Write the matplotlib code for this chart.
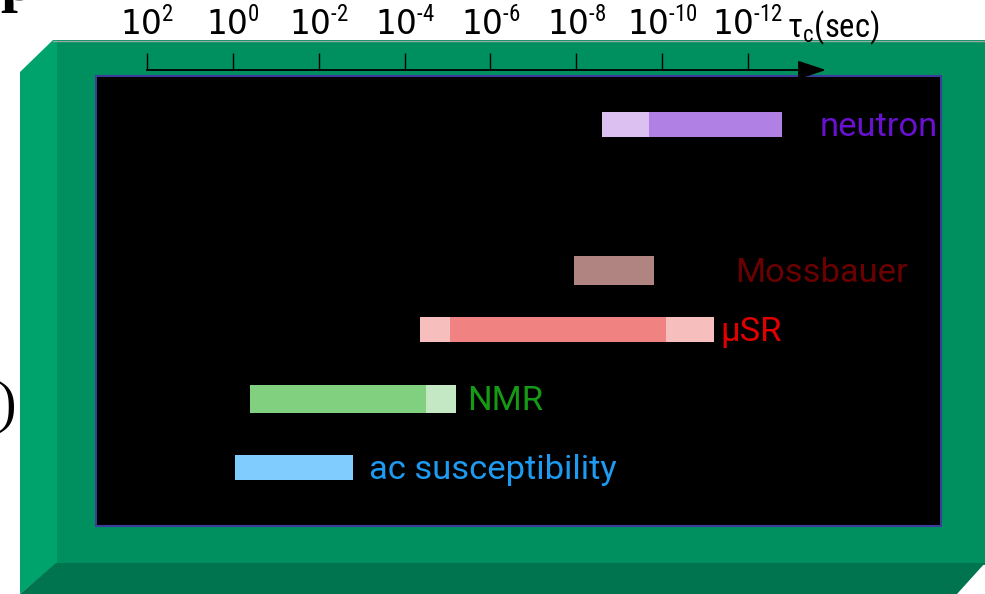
import matplotlib
matplotlib.use("Agg")
import matplotlib.pyplot as plt
from matplotlib.patches import Polygon, Rectangle
from matplotlib.ticker import NullLocator

# time windows of each probe, as log10(tau_c / sec)
probes = ["ac susceptibility", "NMR", "μSR", "Mossbauer", "neutron"]
core_start = [-0.05, -0.4, -5.05, -7.95, -9.7]
core_end = [-2.8, -4.5, -10.1, -9.8, -12.8]
# paler extension of the window (None = no extension)
ext_start = [None, None, -4.35, None, -8.6]
ext_end = [None, -5.2, -11.2, None, None]

tick_exps = [2, 0, -2, -4, -6, -8, -10, -12]

# styles / layout
core_colors = ["#80ccff", "#80d080", "#f08282", "#b08480", "#b080e4"]
ext_colors = [None, "#c3e8c3", "#f7bebe", None, "#dcc0f2"]
label_colors = ["#1e9bf0", "#169a16", "#e00000", "#6b0000", "#6a10d0"]
rows = [0, 1.01, 2.03, 2.9, 5.04]
heights = [0.37, 0.41, 0.37, 0.43, 0.37]
label_at = [-3.17, -5.45, -11.35, -11.70, -13.68]

tick_font = 'Roboto Condensed'
plt.rcParams['mathtext.fontset'] = 'custom'
plt.rcParams['mathtext.rm'] = tick_font
plt.rcParams['mathtext.default'] = 'regular'

W, H = 985, 594
fig = plt.figure(figsize=(W / 100, H / 100), dpi=100)

# slide decoration: green bevelled frame + black panel (pixel coords)
bg = fig.add_axes([0, 0, 1, 1])
bg.set_xlim(0, W)
bg.set_ylim(H, 0)
bg.axis('off')
bg.add_patch(Rectangle((56, 40), W - 56, 525, color='#009060', lw=0))
bg.add_patch(Polygon([(20, 72), (53, 40), (57, 40), (57, 563), (20, 594)],
                     color='#00a36c', lw=0))
bg.add_patch(Polygon([(56, 563), (W, 563), (957, 594), (20, 594)],
                     color='#00744e', lw=0))
bg.plot([53, W], [40.5, 40.5], color='#9aa8a0', lw=1)
bg.add_patch(Rectangle((96, 76), 845, 450, facecolor='black',
                       edgecolor='#3c3c9a', lw=1.5))
# bits of the slide title cut off by the crop
bg.text(0, 0, "p", ha='left', va='baseline', fontsize=44,
        family='Liberation Serif', weight='bold')
bg.text(16, 407, ")", ha='right', va='center', fontsize=40,
        family='Liberation Serif')

# data axes over the panel, axis line sits just above it
dec = (748 - 147) / 14
ax = fig.add_axes([96 / W, (H - 526) / H, (941 - 96) / W, (526 - 70) / H])
ax.set_facecolor('none')
ax.set_xscale('log')
ax.set_xlim(10 ** (2 + (147 - 96) / dec), 10 ** (2 - (941 - 147) / dec))
ax.set_ylim(-0.86, 5.846)

for i, name in enumerate(probes):
    lo, hi = sorted((10.0 ** core_start[i], 10.0 ** core_end[i]))
    ax.barh(rows[i], hi - lo, left=lo, height=heights[i], color=core_colors[i])
    if ext_start[i] is not None:
        lo, hi = sorted((10.0 ** ext_start[i], 10.0 ** core_start[i]))
        ax.barh(rows[i], hi - lo, left=lo, height=heights[i], color=ext_colors[i])
    if ext_end[i] is not None:
        lo, hi = sorted((10.0 ** core_end[i], 10.0 ** ext_end[i]))
        ax.barh(rows[i], hi - lo, left=lo, height=heights[i], color=ext_colors[i])
    ax.text(10.0 ** label_at[i], rows[i] - 0.17, name,
            color=label_colors[i], fontsize=24.8, family='Roboto',
            ha='left', va='baseline')

for side in ['left', 'right', 'bottom']:
    ax.spines[side].set_visible(False)
ax.spines['top'].set_bounds(1e2, 1e-12)
ax.spines['top'].set_linewidth(1.3)
ax.xaxis.tick_top()
ax.set_xticks([10.0 ** e for e in tick_exps])
ax.set_xticklabels([f"$10^{{\\text{{{e}}}}}$" for e in tick_exps])
ax.xaxis.set_minor_locator(NullLocator())
ax.tick_params(axis='x', which='major', direction='out', length=12, width=1,
               pad=8, labelsize=23.5)
ax.set_yticks([])

ax.annotate("", xy=(10 ** (2 - (826 - 147) / dec), 1), xytext=(1e-12, 1),
            xycoords=ax.get_xaxis_transform(), annotation_clip=False,
            arrowprops=dict(arrowstyle="-|>,head_length=0.87,head_width=0.29",
                            mutation_scale=20, color='black', lw=1.3,
                            shrinkA=0, shrinkB=0))
ax.text(10 ** (2 - (787 - 147) / dec), 1 + (70 - 37) / 456, "τ$_c$(sec)",
        transform=ax.get_xaxis_transform(), ha='left', va='baseline',
        fontsize=23.5, family=[tick_font, 'DejaVu Sans'])

fig.savefig('out.png', dpi=100)
